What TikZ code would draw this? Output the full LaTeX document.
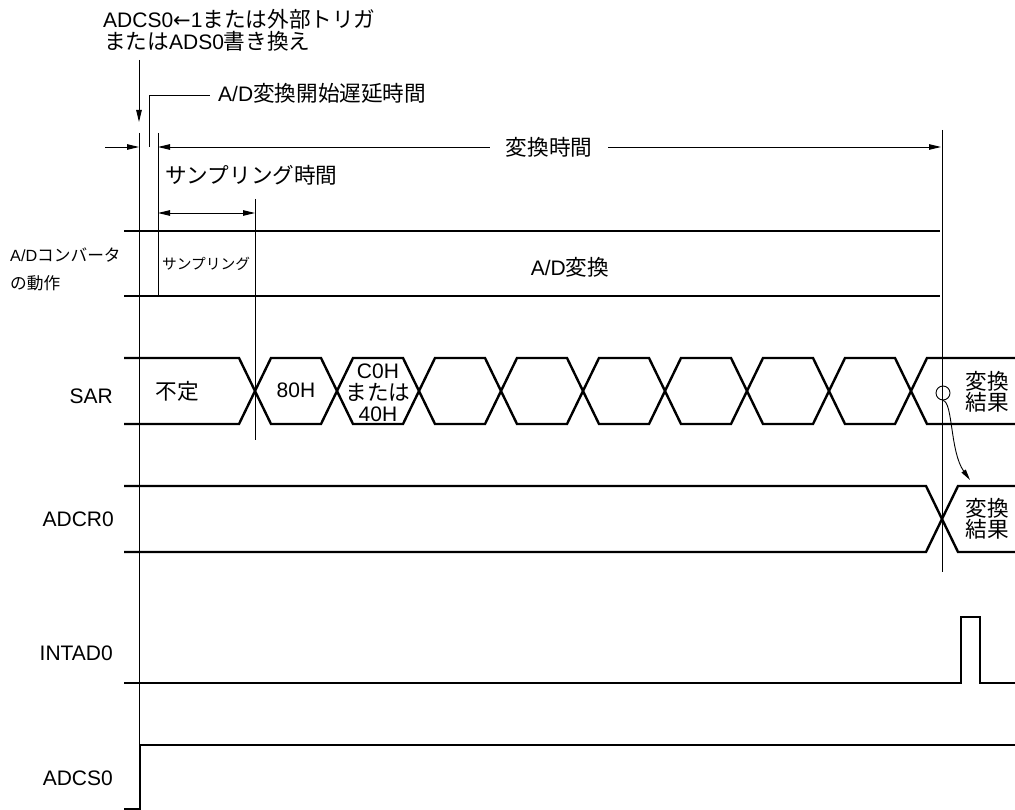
\documentclass[tikz,border=0pt]{standalone}
\usepackage{fontspec}
\setmainfont{Liberation Sans}
\newfontfamily\jpf[Scale=1.03]{Noto Sans CJK JP}
\newfontfamily\djv{DejaVu Sans}
\usetikzlibrary{arrows.meta}
\newcommand\J[1]{{\jpf #1}}
\begin{document}
\begin{tikzpicture}[x=1pt,y=-1pt,
  sig/.style={line width=2.4pt, line join=miter},
  guide/.style={line width=0.8pt},
  thinl/.style={line width=0.9pt},
  tip/.style={-{Triangle[length=12pt,width=5.5pt]}},
  bitip/.style={{Triangle[length=12pt,width=5.5pt]}-{Triangle[length=12pt,width=5.5pt]}},
  lbl/.style={font=\fontsize{21}{22}\selectfont, inner sep=0pt},
  lblm/.style={font=\fontsize{21}{21.5}\selectfont, inner sep=0pt, align=center},
]
\useasboundingbox (0,0) rectangle (1015,810);

% --- top annotation
\node[lbl, anchor=base west] (trig1) at (103,28) {ADCS0{\djv ←}1\J{または外部トリガ}};
\node[lbl, anchor=base west] (trig2) at (104,50) {\J{または}ADS0\J{書き換え}};
\coordinate (trigtop) at (139,60);
\coordinate (trigtip) at (139,122);
\draw[thinl, tip] (trigtop) -- (trigtip);

% --- guide lines
\coordinate (g1t) at (139,133); \coordinate (g1b) at (139,745);
\draw[guide] (g1t) -- (g1b);
\coordinate (g2b) at (149,147); \coordinate (g2t) at (149,95); \coordinate (g2l) at (210,95);
\draw[guide] (g2b) -- (g2t) -- (g2l);
\node[lbl, anchor=base west] (delay) at (218,102) {A/D\J{変換開始遅延時間}};
\coordinate (g3t) at (158,133); \coordinate (g3b) at (158,296);
\draw[guide] (g3t) -- (g3b);
\coordinate (g4t) at (942,130); \coordinate (g4b) at (942,572);
\draw[guide] (g4t) -- (g4b);
\coordinate (g5t) at (255,199); \coordinate (g5b) at (255,440);
\draw[guide] (g5t) -- (g5b);

% --- conversion time dimension
\coordinate (d0) at (105,147); \coordinate (d1) at (139,147);
\coordinate (d2) at (158,147); \coordinate (d3) at (941,147);
\node[lbl, inner xsep=16pt] (convtime) at (549,147) {\J{変換時間}};
\draw[thinl, tip] (d0) -- (d1);
\draw[thinl, tip] (convtime.west) -- (d2);
\draw[thinl, tip] (convtime.east) -- (d3);

% --- sampling time
\node[lbl, anchor=west] (samptime) at (165,175) {\J{サンプリング時間}};
\coordinate (s0) at (158,213); \coordinate (s1) at (255,213);
\draw[thinl, bitip] (s0) -- (s1);

% --- A/D converter operation
\node[font=\fontsize{16.2}{28}\selectfont, inner sep=0pt, anchor=west, align=left] (adlbl) at (10,269) {A/D\J{コンバータ}\\\J{の動作}};
\draw[sig] (124,231) -- (940,231);
\draw[sig] (124,296) -- (940,296);
\node[font=\fontsize{14.3}{16}\selectfont, inner sep=0pt] (samp) at (206,264) {\J{サンプリング}};
\node[lbl] (adconv) at (570,267) {A/D\J{変換}};

% --- SAR
\node[lbl, anchor=east] (sarl) at (113,396) {SAR};
\draw[sig] (124,358) -- (239,358) -- (271,424) -- (321,424) -- (353,358) -- (403,358) -- (435,424) -- (485,424) -- (517,358) -- (567,358) -- (599,424) -- (649,424) -- (681,358) -- (731,358) -- (763,424) -- (813,424) -- (845,358) -- (895,358) -- (927,424) -- (1016,424);
\draw[sig] (124,424) -- (239,424) -- (271,358) -- (321,358) -- (353,424) -- (403,424) -- (435,358) -- (485,358) -- (517,424) -- (567,424) -- (599,358) -- (649,358) -- (681,424) -- (731,424) -- (763,358) -- (813,358) -- (845,424) -- (895,424) -- (927,358) -- (1016,358);
\node[lbl] (undef) at (177,391) {\J{不定}};
\node[lbl] (v80) at (296,390) {80H};
\node[lblm] (vc0) at (378,393) {C0H\\\J{または}\\40H};
\node[lblm] (sarres) at (987,392) {\J{変換}\\\J{結果}};
\node[circle, draw, thinl, minimum size=14pt, inner sep=0pt] (sarpt) at (943,393) {};

% --- ADCR0
\node[lbl, anchor=east] (adcrl) at (114,519) {ADCR0};
\draw[sig] (124,486) -- (926,486) -- (958,552) -- (1016,552);
\draw[sig] (124,552) -- (926,552) -- (958,486) -- (1016,486);
\node[lblm] (adcrres) at (987,519) {\J{変換}\\\J{結果}};
\coordinate (adcrin) at (970,480);
\draw[thinl, -{Triangle[length=11pt,width=5pt]}] (sarpt.south) .. controls (953,402) and (950,452) .. (adcrin);

% --- INTAD0
\node[lbl, anchor=east] (intl) at (113,653) {INTAD0};
\draw[sig] (124,683) -- (961,683) -- (961,617) -- (980,617) -- (980,683) -- (1016,683);

% --- ADCS0
\node[lbl, anchor=east] (adcsl) at (113,778) {ADCS0};
\draw[sig] (124,809) -- (140,809) -- (140,745) -- (1016,745);
\end{tikzpicture}
\end{document}
